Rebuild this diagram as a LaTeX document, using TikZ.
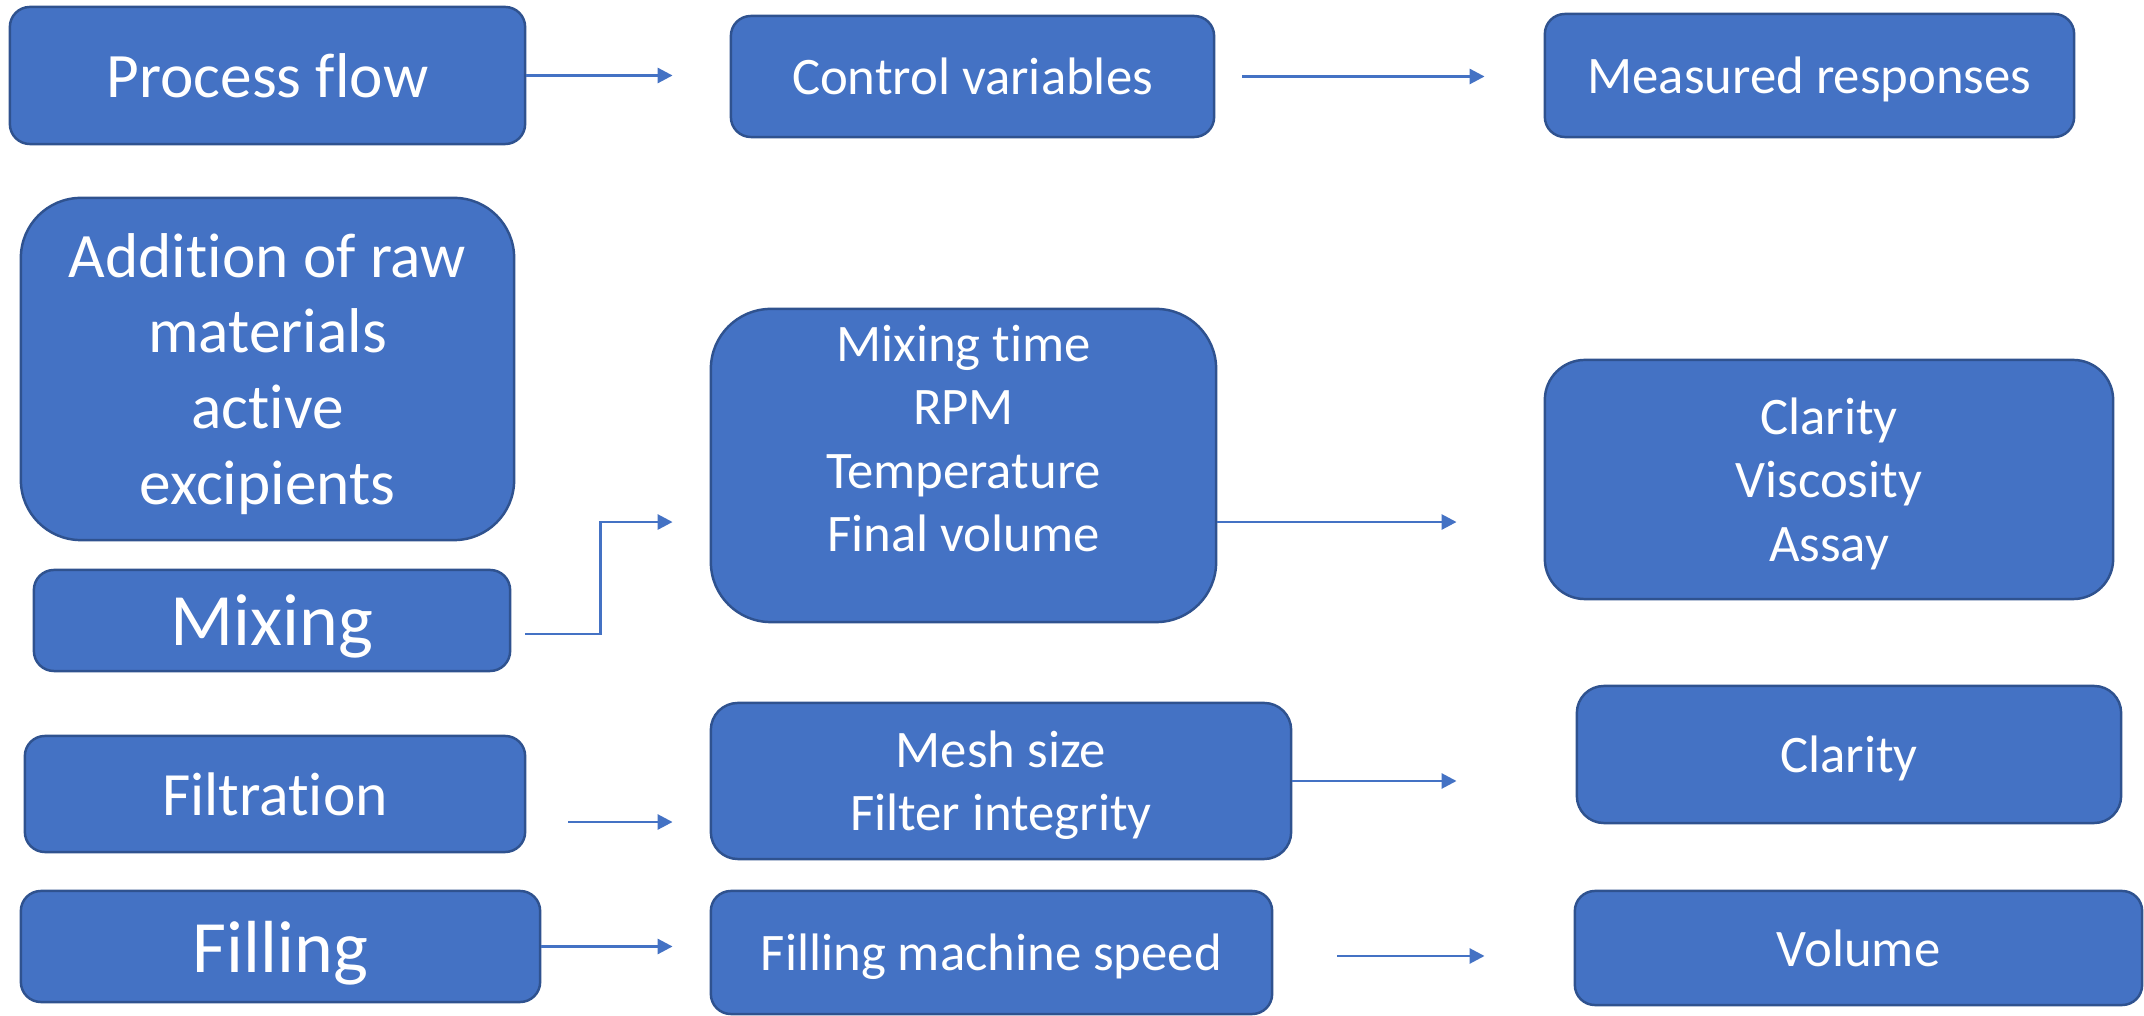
\documentclass[tikz,border=0pt]{standalone}
\usepackage{fontspec}
\setmainfont{Carlito}[Ligatures=NoCommon]
\usetikzlibrary{arrows.meta}
\definecolor{boxblue}{HTML}{4472C4}
\definecolor{boxedge}{HTML}{2F528F}

\begin{document}
\begin{tikzpicture}[
        x=0.01cm, y=-0.01cm,
        box/.style={draw=boxedge, line width=0.7pt, fill=boxblue, rounded corners=0.2cm, text=white, align=center, inner sep=0pt, text depth=0pt, font=\fontsize{15}{18}\selectfont},
        bigtext/.style={font=\fontsize{18}{21.6}\selectfont},
        hugetext/.style={font=\fontsize{21}{25}\selectfont},
        arrow/.style={-{Triangle[length=0.15cm, width=0.15cm]}, draw=boxblue, line width=0.8pt}
    ]
        \useasboundingbox (0,0) rectangle (2144,1016);

        \node[box, bigtext, minimum width=5.15cm, minimum height=1.37cm] (flow) at (267.5,75.5) {Process flow};
        \node[box, minimum width=4.83cm, minimum height=1.21cm] (ctrl) at (972.5,76.5) {Control variables};
        \node[box, minimum width=5.29cm, minimum height=1.23cm] (resp) at (1809.5,75.5) {Measured responses};

        \node[box, bigtext, minimum width=4.93cm, minimum height=3.42cm, rounded corners=0.6cm] (raw) at (267.5,369) {Addition of raw\\materials\\active\\excipients};
        \node[box, hugetext, minimum width=4.76cm, minimum height=1.01cm] (mix) at (272,620.5) {Mixing};
        \node[box, minimum width=5.05cm, minimum height=3.13cm, rounded corners=0.6cm, text depth=15.5pt] (mixvar) at (963.5,465.5) {Mixing time\\RPM\\Temperature\\Final volume};
        \node[box, minimum width=5.68cm, minimum height=2.39cm, rounded corners=0.4cm] (mixresp) at (1829,479.5) {Clarity\\Viscosity\\Assay};

        \node[box, font=\fontsize{17.5}{21}\selectfont, minimum width=5.00cm, minimum height=1.16cm] (filt) at (275,794) {Filtration};
        \node[box, minimum width=5.80cm, minimum height=1.56cm, rounded corners=0.27cm] (filtvar) at (1001,781) {Mesh size\\Filter integrity};
        \node[box, minimum width=5.44cm, minimum height=1.37cm, rounded corners=0.27cm] (filtresp) at (1849,754.5) {Clarity};

        \node[box, hugetext, minimum width=5.19cm, minimum height=1.11cm] (fill) at (280.5,946.5) {Filling};
        \node[box, minimum width=5.61cm, minimum height=1.23cm] (fillvar) at (991.5,952.5) {Filling machine speed};
        \node[box, minimum width=5.67cm, minimum height=1.14cm] (fillresp) at (1858.5,948) {Volume};

        \coordinate (mixout) at ([yshift=-0.565cm]mixvar.east);
        \coordinate (filtout) at ([yshift=-0.28cm]filt.east);
        \coordinate (fillout) at ([yshift=-0.035cm]fillvar.east);

        \draw[arrow, shorten >=0.57cm] (flow.east) -- (flow.east -| ctrl.west);
        \draw[arrow, shorten <=0.27cm, shorten >=0.59cm] (ctrl.east) -- (ctrl.east -| resp.west);
        \draw[arrow, shorten <=0.14cm, shorten >=0.37cm] ([yshift=-0.135cm]mix.east) -- ++(89,0) |- ([yshift=-0.565cm]mixvar.west);
        \draw[arrow, shorten >=0.87cm] (mixout) -- (mixout -| mixresp.west);
        \draw[arrow, shorten <=0.42cm, shorten >=0.37cm] (filtout) -- (filtout -| filtvar.west);
        \draw[arrow, shorten >=1.19cm] (filtvar.east) -- (filtvar.east -| filtresp.west);
        \draw[arrow, shorten >=0.37cm] (fill.east) -- (fill.east -| fillvar.west);
        \draw[arrow, shorten <=0.64cm, shorten >=0.89cm] (fillout) -- (fillout -| fillresp.west);
    \end{tikzpicture}
\end{document}
